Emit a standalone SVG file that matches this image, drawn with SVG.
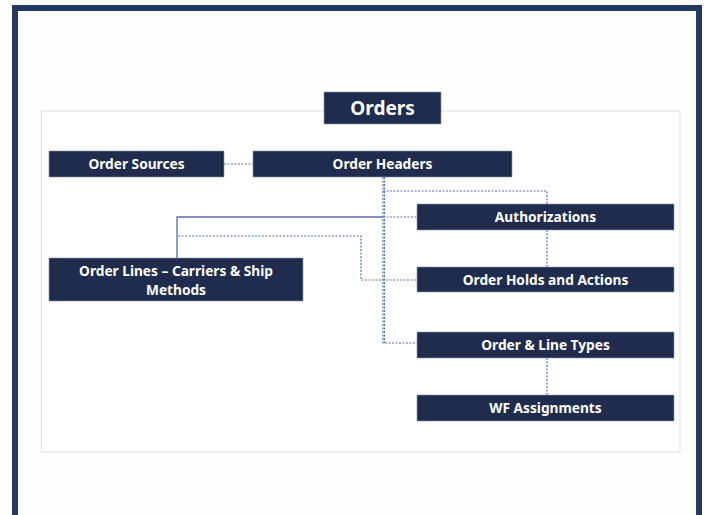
<svg xmlns="http://www.w3.org/2000/svg" width="709" height="515" viewBox="0 0 709 515">
<style>
.box{fill:#1f2c4e;stroke:#8b97b8;stroke-width:0.6}
.t{fill:#ffffff;font-family:"Noto Sans","Open Sans","Liberation Sans",sans-serif;font-weight:bold;font-size:13.7px;text-anchor:middle;dominant-baseline:central}
.dot{fill:none;stroke:#5e6cab;stroke-width:1.2;stroke-dasharray:2 1.5}
.sol{fill:none;stroke:#5e6cab;stroke-width:1.3}
</style>
<rect x="0" y="0" width="709" height="515" fill="#ffffff"/>
<rect x="15" y="8" width="684" height="520" fill="#fefefe" stroke="#243a63" stroke-width="6"/>
<rect x="41.5" y="111" width="638.5" height="341" fill="#ffffff" stroke="#e4e4e6" stroke-width="1.2"/>
<g id="connectors">
<path class="dot" d="M224 164 H253"/>
<path class="dot" d="M383 177 V343 H417"/>
<path class="dot" d="M384.5 177 V343"/>
<path class="dot" d="M383 191 H547 V204"/>
<path class="dot" d="M547 230 V267"/>
<path class="sol" d="M177 258 V217 H383"/>
<path class="dot" d="M383 217 H417"/>
<path class="dot" d="M178 236 H361 V280 H417"/>
<path class="dot" d="M547 358 V395"/>
</g>
<g id="orders"><rect class="box" x="324" y="92" width="117" height="32"/><text class="t" x="382.5" y="107.5" style="font-size:19px">Orders</text></g>
<g id="order-sources"><rect class="box" x="49" y="151" width="175" height="26"/><text class="t" x="136.5" y="163.5">Order Sources</text></g>
<g id="order-headers"><rect class="box" x="253" y="151" width="259" height="26"/><text class="t" x="382.5" y="163.5">Order Headers</text></g>
<g id="authorizations"><rect class="box" x="417" y="204" width="257" height="26"/><text class="t" x="545.5" y="216.5">Authorizations</text></g>
<g id="order-holds"><rect class="box" x="417" y="267" width="257" height="25"/><text class="t" x="545.5" y="279">Order Holds and Actions</text></g>
<g id="order-line-types"><rect class="box" x="417" y="332" width="257" height="26"/><text class="t" x="545.5" y="344.5">Order &amp; Line Types</text></g>
<g id="wf-assignments"><rect class="box" x="417" y="395" width="257" height="26"/><text class="t" x="545.5" y="407.5">WF Assignments</text></g>
<g id="order-lines"><rect class="box" x="49" y="258" width="254" height="43"/><text class="t" x="176" y="270">Order Lines – Carriers &amp; Ship</text><text class="t" x="176" y="289">Methods</text></g>
</svg>
